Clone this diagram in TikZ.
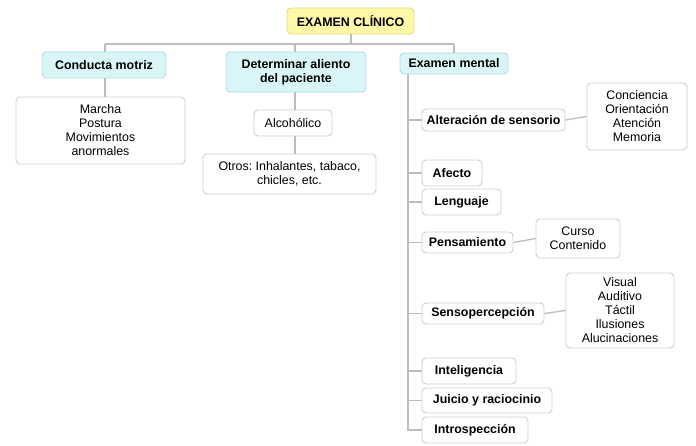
\documentclass[tikz,border=0pt]{standalone}
\usepackage{fontspec}
\setmainfont{Liberation Sans}
\frenchspacing
\definecolor{rootfill}{HTML}{FFF8A8}
\definecolor{rootdraw}{HTML}{E6DA7A}
\definecolor{cyfill}{HTML}{DAF5F8}
\definecolor{cydraw}{HTML}{B0DDE4}
\definecolor{bxdraw}{HTML}{CFCFCF}
\definecolor{ln}{HTML}{BDBDBD}
\begin{document}
\begin{tikzpicture}[x=1pt,y=-1pt,
  base/.style={draw=bxdraw,line width=0.9pt,rounded corners=4pt,fill=white,align=center,inner sep=0pt,font=\fontsize{12.4}{14}\selectfont},
  rootbox/.style={base,fill=rootfill,draw=rootdraw,font=\fontsize{12.4}{14}\selectfont\bfseries},
  cybox/.style={base,fill=cyfill,draw=cydraw,font=\fontsize{12.4}{14}\selectfont\bfseries},
  subbox/.style={base,font=\fontsize{12.4}{14}\selectfont\bfseries},
  leaf/.style={base},
  conn/.style={draw=ln,line width=1.3pt}]
\useasboundingbox (0,0) rectangle (696,446);
\fill[white] (0,0) rectangle (696,446);
\newcommand{\bx}[6]{\node[#1,minimum width={#4-#2},minimum height={#5-#3}] (#6) at ({(#2+#4)/2},{(#3+#5)/2})}
\coordinate (hl) at (105,44);
\coordinate (hr) at (454,44);
\coordinate (hm) at (295,44);
\coordinate (hs) at (351,44);
\coordinate (sp) at (408,430);
\bx{rootbox}{287}{8}{414}{34}{root} {EXAMEN CLÍNICO};
\bx{cybox}{42}{52}{166}{78}{cm} {Conducta motriz};
\bx{leaf}{16}{97}{185}{164}{cml} {Marcha\\Postura\\Movimientos\\anormales};
\bx{cybox}{226}{52}{366}{92}{da} {Determinar aliento\\del paciente};
\bx{leaf}{254}{110}{332}{136}{alc} {Alcohólico};
\bx{leaf}{203}{154}{376}{194}{otr} {Otros: Inhalantes, tabaco,\\chicles, etc.};
\bx{cybox}{400}{53}{508}{74}{em} {Examen mental};
\bx{subbox}{422}{109}{565}{131}{alt} {Alteración de sensorio};
\bx{leaf}{587}{83}{687}{150}{altl} {Conciencia\\Orientación\\Atención\\Memoria};
\bx{subbox}{422}{160}{482}{186}{afe} {Afecto};
\bx{subbox}{422}{189}{501}{215}{len} {Lenguaje};
\bx{subbox}{422}{232}{513}{253}{pen} {Pensamiento};
\bx{leaf}{536}{219}{620}{258}{penl} {Curso\\Contenido};
\bx{subbox}{422}{303}{544}{324}{sen} {Sensopercepción};
\bx{leaf}{566}{273}{674}{348}{senl} {Visual\\Auditivo\\Táctil\\Ilusiones\\Alucinaciones};
\bx{subbox}{422}{358}{516}{384}{int} {Inteligencia};
\bx{subbox}{422}{388}{552}{413}{jui} {Juicio y raciocinio};
\bx{subbox}{422}{417}{528}{443}{intr} {Introspección};
\draw[conn] (root.south -| hs) -- (hs);
\draw[conn] (hl) -- (hr);
\draw[conn] (hl) -- (cm.north -| hl);
\draw[conn] (hm) -- (da.north -| hm);
\draw[conn] (hr) -- (em.north -| hr);
\draw[conn] (cm.south -| hl) -- (cml.north -| hl);
\draw[conn] (da.south -| hm) -- (alc.north -| hm);
\draw[conn] (alc.south -| hm) -- (otr.north -| hm);
\draw[conn] (em.south -| sp) -- (sp) -- (intr.west);
\foreach \n in {alt,afe,len,pen,sen,int,jui}{
  \draw[conn] (\n.west -| sp) -- (\n.west);
}
\draw[conn] (alt.east) -- (altl.west);
\draw[conn] (pen.east) -- (penl.west);
\draw[conn] (sen.east) -- (senl.west);
\end{tikzpicture}
\end{document}
